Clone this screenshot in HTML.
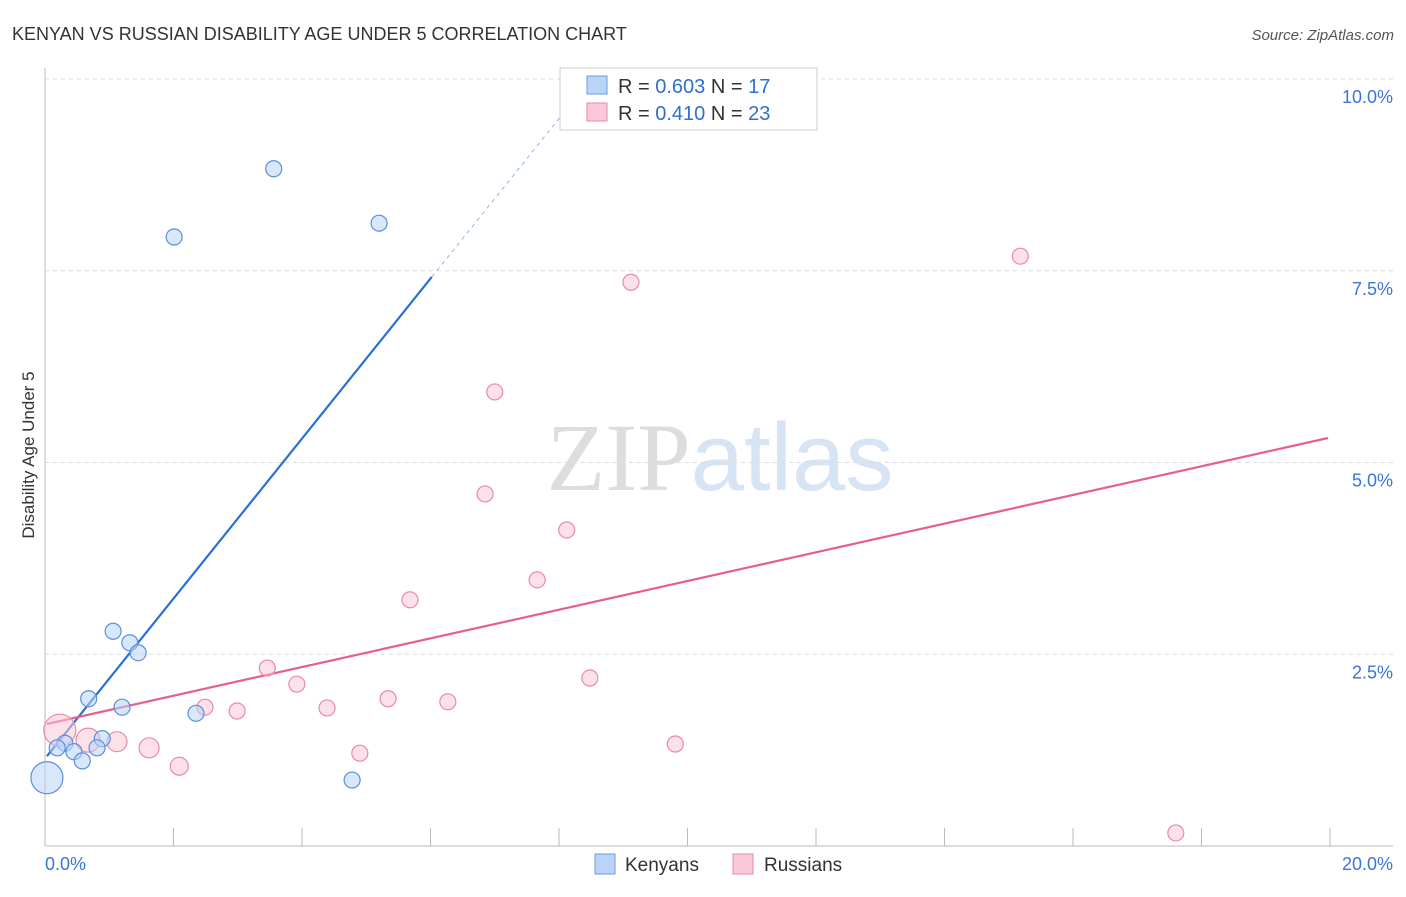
<!DOCTYPE html><html><head><meta charset="utf-8"><style>
body{margin:0;background:#fff;font-family:"Liberation Sans",sans-serif}
</style></head><body>
<svg id="c" width="1406" height="892" xmlns="http://www.w3.org/2000/svg" font-family="Liberation Sans, sans-serif">
<text x="12" y="40" font-size="18" fill="#333">KENYAN VS RUSSIAN DISABILITY AGE UNDER 5 CORRELATION CHART</text>
<text x="1394" y="40" font-size="15" fill="#555" font-style="italic" text-anchor="end">Source: ZipAtlas.com</text>
<text x="720" y="490" font-size="96" text-anchor="middle"><tspan fill="#ddd" font-family="Liberation Serif, serif">ZIP</tspan><tspan fill="#d6e4f5">atlas</tspan></text>
<text transform="translate(34,455) rotate(-90)" font-size="17" fill="#333" text-anchor="middle">Disability Age Under 5</text>
<g id="grid"></g><g id="axes"></g><g id="lines"></g><g id="pts"></g>
<g>
<rect x="560" y="68" width="257" height="62" fill="#fff" stroke="#ccc"/>
<rect x="587" y="76" width="20" height="18" fill="#b9d4f7" stroke="#6a9be0"/>
<text x="618" y="93" font-size="20" fill="#333">R = <tspan fill="#2f6fd0">0.603</tspan>   N = <tspan fill="#2f6fd0">17</tspan></text>
<rect x="587" y="103" width="20" height="18" fill="#f9c9d7" stroke="#e88aa6"/>
<text x="618" y="120" font-size="20" fill="#333">R = <tspan fill="#2f6fd0"> 0.410</tspan>   N = <tspan fill="#2f6fd0">23</tspan></text>
</g>
<g>
<rect x="595" y="854" width="20" height="20" fill="#b9d4f7" stroke="#6a9be0"/>
<text x="625" y="871" font-size="19" fill="#333">Kenyans</text>
<rect x="733" y="854" width="20" height="20" fill="#f9c9d7" stroke="#e88aa6"/>
<text x="764" y="871" font-size="19" fill="#333">Russians</text>
</g>
</svg>
<script>
const kenX=[3.56,2.01,5.20,1.06,1.32,1.45,0.68,1.20,2.35,0.31,0.19,0.89,0.45,0.81,0.58,0.03,4.78];
const kenY=[8.83,7.94,8.12,2.80,2.65,2.52,1.92,1.81,1.73,1.34,1.28,1.40,1.23,1.28,1.11,0.89,0.86];
const kenR=[8,8,8,8,8,8,8,8,8,8,8,8,8,8,8,16,8];
const rusX=[15.18,9.12,7.00,6.85,8.12,7.66,5.68,3.46,3.92,8.48,5.34,6.27,4.39,2.99,2.49,1.12,1.62,4.90,9.81,2.09,17.60,0.23,0.67];
const rusY=[7.69,7.35,5.92,4.59,4.12,3.47,3.21,2.32,2.11,2.19,1.92,1.88,1.80,1.76,1.81,1.36,1.28,1.21,1.33,1.04,0.17,1.51,1.38];
const rusR=[8,8,8,8,8,8,8,8,8,8,8,8,8,8,8,10,10,8,8,9,8,16,12];
const yTicks=[2.5,5.0,7.5,10.0];
const xTicks=[0,2,4,6,8,10,12,14,16,18,20];
const kenFit=[1.14,1.043];
const rusFit=[1.585,0.187];
const X=v=>45+v*64.25, Y=v=>846-v*76.7;
const NS='http://www.w3.org/2000/svg';
function mk(p,t,a){const e=document.createElementNS(NS,t);for(const k in a)e.setAttribute(k,a[k]);document.getElementById(p).appendChild(e);return e;}
yTicks.forEach(t=>{
 const l=mk('grid','line',{x1:45,x2:1393,y1:Y(t),y2:Y(t),stroke:'#ddd','stroke-dasharray':'4,4'});
 
 
 const tx=mk('grid','text',{x:1393,y:Y(t)+24,'font-size':18,fill:'#3b75d6','text-anchor':'end'});tx.textContent=t.toFixed(1)+'%';
 
 
});
mk('axes','line',{x1:45,x2:45,y1:68,y2:846,stroke:'#bbb'});
mk('axes','line',{x1:45,x2:1393,y1:846,y2:846,stroke:'#bbb'});
xTicks.forEach(t=>{const l=mk('axes','line',{x1:X(t),x2:X(t),y1:828,y2:846,stroke:'#bbb'});
 
 });
[[0,'0.0%',45,'start'],[20,'20.0%',1393,'end']].forEach(a=>{const tx=mk('axes','text',{x:a[2],y:870,'font-size':18,fill:'#3b75d6','text-anchor':a[3]});tx.textContent=a[1];
 
 });
function pts(xs,ys,rs,f,s,n){xs.forEach((x,i)=>{const c=mk('pts','circle',{cx:X(x),cy:Y(ys[i]),r:rs[i],fill:f,'fill-opacity':0.55,stroke:s,'stroke-width':1.2});
 
 });}
pts(rusX,rusY,rusR,'#f9c9d7','#e88aa6','russian-point');
pts(kenX,kenY,kenR,'#b9d4f7','#5b8fdc','kenyan-point');
let l=mk('lines','line',{x1:X(0.03),y1:Y(kenFit[0]+kenFit[1]*0.03),x2:X(6.02),y2:Y(kenFit[0]+kenFit[1]*6.02),stroke:'#2a6fd6','stroke-width':2.2});


l=mk('lines','line',{x1:X(6.02),y1:Y(kenFit[0]+kenFit[1]*6.02),x2:X(8.5),y2:Y(kenFit[0]+kenFit[1]*8.5),stroke:'#8fb4ea','stroke-width':1,'stroke-dasharray':'4,4'});


l=mk('lines','line',{x1:X(0.03),y1:Y(rusFit[0]+rusFit[1]*0.03),x2:X(19.97),y2:Y(rusFit[0]+rusFit[1]*19.97),stroke:'#e5608c','stroke-width':2.2});


</script></body></html>
